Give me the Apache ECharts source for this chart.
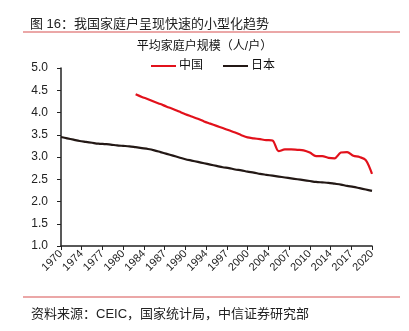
<!DOCTYPE html>
<html>
<head>
<meta charset="utf-8">
<script src="https://cdn.jsdelivr.net/npm/echarts@6/dist/echarts.min.js"></script>
<style>
  html, body { margin: 0; padding: 0; background: #fff; }
  #chart { width: 409px; height: 331px; }
</style>
</head>
<body>
<div id="chart"></div>
<script>
// Average household size (persons per household), annual
const years = [];
for (let y = 1970; y <= 2020; y++) years.push(y);

const chinaStart = 1982;
const chinaSize = [
  4.41, 4.35, 4.30, 4.24, 4.19, 4.13, 4.08, 4.02, 3.96, 3.91,
  3.86, 3.80, 3.75, 3.70, 3.65, 3.60, 3.55, 3.49, 3.44, 3.42,
  3.40, 3.38, 3.37, 3.13, 3.17, 3.17, 3.16, 3.15, 3.10, 3.02,
  3.02, 2.98, 2.97, 3.10, 3.11, 3.03, 3.00, 2.93, 2.62
];

const japanSize = [
  3.45, 3.42, 3.39, 3.36, 3.34, 3.32, 3.30, 3.29, 3.28, 3.26,
  3.25, 3.24, 3.22, 3.20, 3.18, 3.15, 3.11, 3.07, 3.03, 2.99,
  2.95, 2.92, 2.89, 2.86, 2.83, 2.80, 2.77, 2.75, 2.72, 2.70,
  2.67, 2.65, 2.62, 2.60, 2.58, 2.56, 2.54, 2.52, 2.50, 2.48,
  2.46, 2.44, 2.43, 2.42, 2.40, 2.38, 2.35, 2.33, 2.30, 2.27, 2.24
];

const firstYear = 1970;
const lastYear = 2020;
const tickCount = 15;             // evenly spaced year ticks
const yTicks = [1.0, 1.5, 2.0, 2.5, 3.0, 3.5, 4.0, 4.5, 5.0];

const titleText = '图 16：我国家庭户呈现快速的小型化趋势';
const chartTitle = '平均家庭户规模（人/户）';
const sourceText = '资料来源：CEIC，国家统计局，中信证券研究部';

// x is measured in years since the first year so ticks start at zero
const chinaData = chinaSize.map((v, i) => [chinaStart + i - firstYear, v]);
const japanData = japanSize.map((v, i) => [years[i] - firstYear, v]);

const span = lastYear - firstYear;
const step = span / tickCount;

const cjk = '"Liberation Sans", Arial, "Noto Sans CJK SC", sans-serif';
const chart = echarts.init(document.getElementById('chart'), null, { renderer: 'canvas' });

chart.setOption({
  backgroundColor: '#ffffff',
  animation: false,
  textStyle: { fontFamily: cjk },
  title: [
    {
      text: titleText, left: 25, top: 13,
      textStyle: { fontSize: 13, fontWeight: 'normal', color: '#222', fontFamily: cjk }
    },
    {
      text: chartTitle, left: 'center', top: 41, padding: 0,
      textStyle: { fontSize: 12, fontWeight: 'normal', color: '#111', fontFamily: cjk }
    },
    {
      text: sourceText, left: 26, top: 303,
      textStyle: { fontSize: 13, fontWeight: 'normal', color: '#222', fontFamily: cjk }
    }
  ],
  graphic: [
    { type: 'line', shape: { x1: 23, y1: 32, x2: 400, y2: 32 }, style: { stroke: '#e58a8a', lineWidth: 1.5 } },
    { type: 'line', shape: { x1: 23, y1: 297, x2: 400, y2: 297 }, style: { stroke: '#e58a8a', lineWidth: 1.5 } }
  ],
  legend: {
    top: 60, left: 151,
    itemWidth: 25, itemHeight: 2, itemGap: 20,
    icon: 'rect',
    padding: 0,
    textStyle: { fontSize: 12, color: '#111', padding: [0, 0, 0, -2] },
    data: ['中国', '日本']
  },
  grid: { left: 61, right: 37, top: 68, bottom: 85, containLabel: false },
  xAxis: {
    type: 'value',
    min: 0, max: span, interval: step,
    axisLine: { show: true, lineStyle: { color: '#222', width: 1.5 } },
    axisTick: { show: true, length: 4, lineStyle: { color: '#222', width: 1 } },
    splitLine: { show: false },
    axisLabel: {
      rotate: 45, fontSize: 11, color: '#222', margin: 6,
      formatter: v => String(firstYear + Math.ceil(v - 1e-6))
    }
  },
  yAxis: {
    type: 'value',
    min: yTicks[0], max: yTicks[yTicks.length - 1], interval: 0.5,
    axisLine: { show: true, lineStyle: { color: '#222', width: 1.5 } },
    axisTick: { show: true, length: 4, lineStyle: { color: '#222', width: 1 } },
    splitLine: { show: false },
    axisLabel: { fontSize: 12, color: '#222', margin: 13, formatter: v => v.toFixed(1) }
  },
  series: [
    {
      name: '中国', type: 'line', data: chinaData,
      showSymbol: false, smooth: 0.3,
      lineStyle: { color: '#e2111b', width: 2.2 },
      itemStyle: { color: '#e2111b' }
    },
    {
      name: '日本', type: 'line', data: japanData,
      showSymbol: false, smooth: 0.3,
      lineStyle: { color: '#231815', width: 2.2 },
      itemStyle: { color: '#231815' }
    }
  ]
});
</script>
</body>
</html>
